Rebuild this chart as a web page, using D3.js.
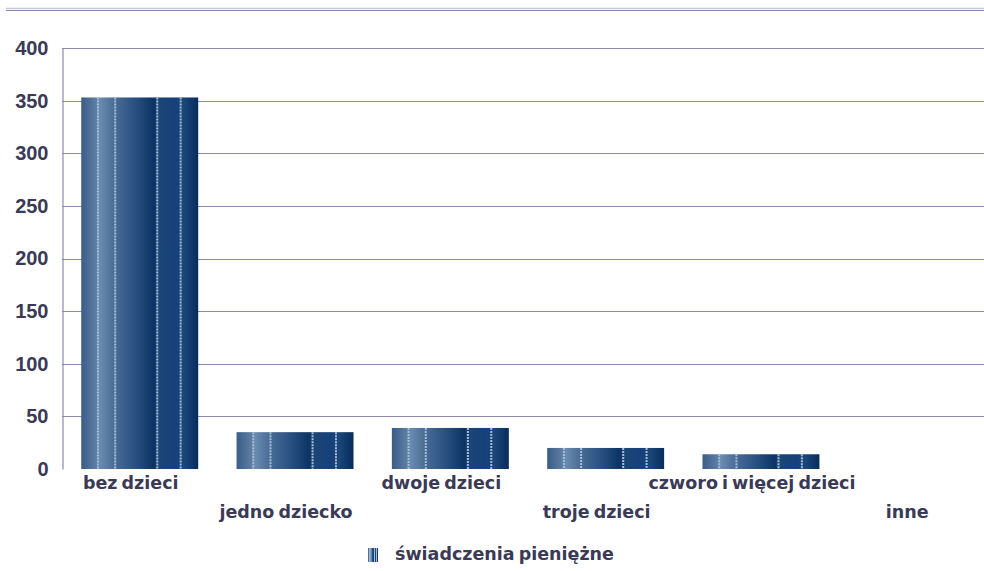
<!DOCTYPE html>
<html>
<head>
<meta charset="utf-8">
<script src="https://cdn.jsdelivr.net/npm/d3@7"></script>
<style>
  body { margin: 0; background: #ffffff; }
  svg { display: block; }
</style>
</head>
<body>
<div id="chart"></div>
<script>
// dane z wykresu
var categories = ["bez dzieci", "jedno dziecko", "dwoje dzieci", "troje dzieci", "czworo i więcej dzieci", "inne"];
var values = [353, 35, 39, 20, 14, 0];
var yTicks = [0, 50, 100, 150, 200, 250, 300, 350, 400];
var seriesName = "świadczenia pieniężne";

var width = 984, height = 571;
var plotLeft = 62, plotTop = 48, plotBottom = 469;
var textColor = "#3a3a56", gridColor = "#8a8ab0";
var labelFont = "'DejaVu Sans', Verdana, sans-serif";

var svg = d3.select("#chart")
  .append("svg")
  .attr("width", width)
  .attr("height", height)

var defs = svg.append("defs")

// poziomy gradient jak w Excelu
var grad = defs.append("linearGradient")
  .attr("id", "barGrad")
  .attr("x1", "0%").attr("x2", "100%")
  .attr("y1", "0%").attr("y2", "0%")
var stops = [
  [0, "#3a5c86"], [0.12, "#5b7ca2"], [0.16, "#6a8bb0"], [0.28, "#4a6d96"],
  [0.45, "#2c5282"], [0.62, "#0b3465"], [0.66, "#1d4676"], [0.8, "#15407a"],
  [0.88, "#1a4678"], [1, "#072c5c"]
];
stops.forEach(function(s){
  grad.append("stop").attr("offset", s[0]).attr("stop-color", s[1])
})

// cienkie jasne pasy na słupkach
var stripes = [0.143, 0.29, 0.65, 0.85];

// górna podwójna linia
svg.append("line")
  .attr("x1", 6).attr("x2", width)
  .attr("y1", 8.5).attr("y2", 8.5)
  .attr("stroke", "#c8c8dc").attr("stroke-width", 1.5)
svg.append("line")
  .attr("x1", 6).attr("x2", width)
  .attr("y1", 10.5).attr("y2", 10.5)
  .attr("stroke", "#8a8ab0").attr("stroke-width", 1.2)

var x = d3.scaleBand()
  .domain(categories)
  .range([plotLeft, 994])
  .paddingInner(0.247)
  .paddingOuter(0.124)

var y = d3.scaleLinear()
  .domain([0, 400])
  .range([plotBottom, plotTop])

// siatka
svg.append("g")
  .selectAll("line")
  .data(yTicks.filter(function(d){ return d > 0 }))
  .enter().append("line")
    .attr("x1", plotLeft).attr("x2", width)
    .attr("y1", function(d){ return Math.round(y(d)) + 0.5 })
    .attr("y2", function(d){ return Math.round(y(d)) + 0.5 })
    .attr("stroke", gridColor)
    .attr("stroke-width", 1.2)

// oś Y
var yAxis = svg.append("g")
  .attr("transform", "translate(" + (plotLeft + 0.5) + ",0)")
  .call(d3.axisLeft(y).tickValues(yTicks).tickSize(0).tickPadding(14))
yAxis.select(".domain").attr("stroke", gridColor).attr("stroke-width", 1.2)
yAxis.selectAll("text")
  .attr("fill", textColor)
  .style("font-family", "'Liberation Sans', Arial, sans-serif")
  .style("font-weight", "bold")
  .style("font-size", "20px")

// słupki
var bars = svg.append("g")
  .selectAll("g")
  .data(values)
  .enter().append("g")

bars.append("rect")
  .attr("x", function(d, i){ return x(categories[i]) })
  .attr("y", function(d){ return y(d) })
  .attr("width", x.bandwidth())
  .attr("height", function(d){ return y(0) - y(d) })
  .attr("fill", "url(#barGrad)")

bars.each(function(d, i){
  if (d <= 0) return;
  var g = d3.select(this)
  stripes.forEach(function(f){
    var sx = x(categories[i]) + x.bandwidth() * f
    g.append("line")
      .attr("x1", sx).attr("x2", sx)
      .attr("y1", y(d)).attr("y2", y(0))
      .attr("stroke", "#a6bcd6")
      .attr("stroke-width", 2)
      .attr("stroke-dasharray", "2,1")
  })
})

// etykiety kategorii (na przemian dwa rzędy)
svg.append("g")
  .selectAll("text")
  .data(categories)
  .enter().append("text")
    .attr("x", function(d){ return x(d) + x.bandwidth() / 2 - 9 })
    .attr("y", function(d, i){ return i % 2 === 0 ? 489 : 518 })
    .attr("text-anchor", "middle")
    .attr("fill", textColor)
    .style("font-family", labelFont)
    .style("font-weight", "bold")
    .style("font-size", "17.5px")
    .style("word-spacing", "-2px")
    .text(function(d){ return d })

// legenda
var legend = svg.append("g").attr("transform", "translate(368,548)")
legend.append("rect")
  .attr("width", 10).attr("height", 14)
  .attr("fill", "url(#barGrad)")
stripes.forEach(function(f){
  legend.append("line")
    .attr("x1", 10 * f).attr("x2", 10 * f)
    .attr("y1", 0).attr("y2", 14)
    .attr("stroke", "#a6bcd6").attr("stroke-width", 1)
})
legend.append("text")
  .attr("x", 27).attr("y", 12)
  .attr("fill", textColor)
  .style("font-family", labelFont)
  .style("font-weight", "bold")
  .style("font-size", "17.5px")
  .style("word-spacing", "-2px")
  .text(seriesName)
</script>
</body>
</html>
